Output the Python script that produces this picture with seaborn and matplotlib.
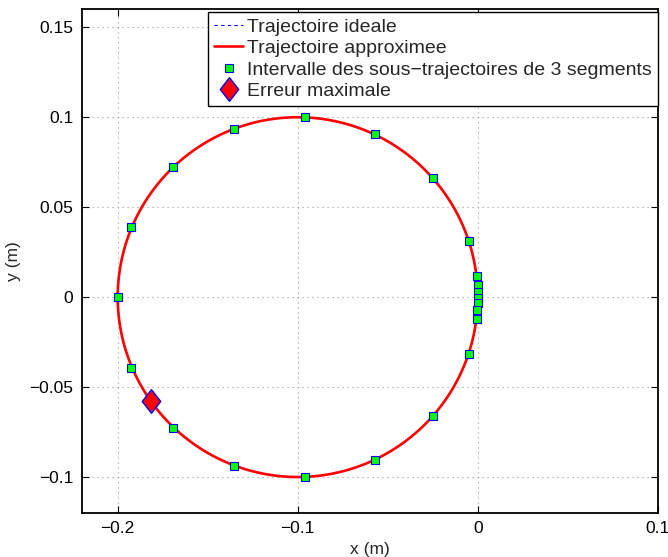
import numpy as np
import matplotlib
matplotlib.use("Agg")
import matplotlib.pyplot as plt
from matplotlib.path import Path
import seaborn as sns

# ── data ─────────────────────────────────────────────────────────────────────
circle_center = (-0.1, 0.0)     # ideal trajectory: circle
circle_radius = 0.1

seg_x = [-0.0958, -0.0568, -0.0250, -0.0050, -0.0002, 0.0000, 0.0000, 0.0000,
         0.0000, -0.0002, -0.0004, -0.0050, -0.0250, -0.0572, -0.0958, -0.1354,
         -0.1690, -0.1927, -0.2000, -0.1927, -0.1690, -0.1354]
seg_y = [0.1000, 0.0906, 0.0661, 0.0313, 0.0117, 0.0067, 0.0029, -0.0004,
         -0.0035, -0.0072, -0.0120, -0.0317, -0.0661, -0.0906, -0.1000, -0.0936,
         -0.0725, -0.0392, 0.0000, 0.0389, 0.0722, 0.0933]

err_x = [-0.1815]
err_y = [-0.0580]

x_ticks = [-0.2, -0.1, 0, 0.1]
y_ticks = [-0.1, -0.05, 0, 0.05, 0.1, 0.15]

# ── style ────────────────────────────────────────────────────────────────────
sns.set_theme(style="white")
plt.rcParams["font.family"] = ["Liberation Sans", "DejaVu Sans"]

fig = plt.figure(figsize=(6.68, 5.57), dpi=100)
ax = fig.add_axes([0.1223, 0.079, 0.8623, 0.9043])

theta = np.linspace(0, 2 * np.pi, 400)
cx = circle_center[0] + circle_radius * np.cos(theta)
cy = circle_center[1] + circle_radius * np.sin(theta)

sns.lineplot(x=cx, y=cy, sort=False, estimator=None, color="red", lw=1.9,
             label="Trajectoire approximee", ax=ax, zorder=2)
sns.lineplot(x=cx, y=cy, sort=False, estimator=None, color="blue", lw=0.8,
             linestyle=(0, (3, 3)), label="Trajectoire ideale", ax=ax, zorder=1)

ax.plot(seg_x, seg_y, ls="none", marker="s", ms=6.0, mfc="#00ff00", mec="blue",
        mew=0.8, label="Intervalle des sous\u2212trajectoires de 3 segments", zorder=3)

diamond = Path([(0, 1), (0.78, 0), (0, -1), (-0.78, 0), (0, 1)],
               [Path.MOVETO, Path.LINETO, Path.LINETO, Path.LINETO, Path.CLOSEPOLY])
ax.plot(err_x, err_y, ls="none", marker=diamond, ms=17, mfc="red", mec="blue",
        mew=1.0, label="Erreur maximale", zorder=4)

ax.set_xlim(-0.22, 0.1)
ax.set_ylim(-0.12, 0.16)
ax.set_xticks(x_ticks)
ax.set_yticks(y_ticks)
ax.set_xticklabels(["\u22120.2", "\u22120.1", "0", "0.1"])
ax.set_yticklabels(["\u22120.1", "\u22120.05", "0", "0.05", "0.1", "0.15"])
ax.tick_params(direction="in", length=5, width=0.8, labelsize=12.5,
               top=True, right=True, bottom=True, left=True, colors="black", pad=6)
ax.grid(True, linestyle=(0, (1, 3.5)), color="#999999", lw=0.8)
for s in ax.spines.values():
    s.set_color("black")
    s.set_linewidth(1.3)

ax.set_xlabel("x (m)", fontsize=12.5, labelpad=4)
ax.set_ylabel("y (m)", fontsize=12.5, labelpad=6)

h, l = ax.get_legend_handles_labels()
order = [1, 0, 2, 3]
leg = ax.legend([h[i] for i in order], [l[i] for i in order], loc="upper right",
                bbox_to_anchor=(1.0, 0.994), fontsize=14, frameon=True,
                fancybox=False, framealpha=1, edgecolor="black", borderaxespad=0,
                handlelength=1.5, handletextpad=0.2, borderpad=0.3,
                labelspacing=0.2)
leg.get_frame().set_linewidth(1.0)

fig.savefig("out.png", dpi=100, facecolor="white")
